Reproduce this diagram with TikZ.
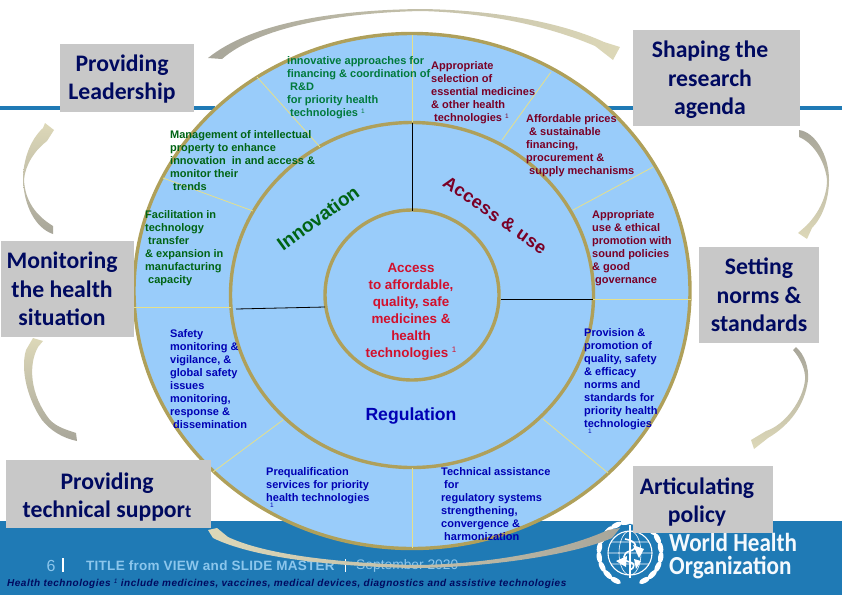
\documentclass[tikz,border=0pt]{standalone}
\usepackage{fontspec}
\setmainfont{Liberation Sans}
\newfontfamily\boxfont{Carlito}
\usetikzlibrary{shapes.geometric}
\definecolor{bandblue}{HTML}{1F7AB5}
\definecolor{ringfill}{HTML}{99CCFA}
\definecolor{ringtan}{HTML}{AFA05A}
\definecolor{boxgrey}{HTML}{C8C8C8}
\definecolor{boxnavy}{HTML}{000A60}
\definecolor{innogreen}{HTML}{007A3C}
\definecolor{darkgreen}{HTML}{006414}
\definecolor{accessred}{HTML}{7A0026}
\definecolor{regblue}{HTML}{0000B4}
\definecolor{corered}{HTML}{D2102C}
\definecolor{footpale}{HTML}{8CC6EC}
\definecolor{sweeppale}{HTML}{DDD8B8}
\definecolor{sweepmid}{HTML}{E6E08A}
\definecolor{sweepgrey}{HTML}{A8A69A}
\newcommand{\supone}{\raisebox{3.5pt}{\mdseries\fontsize{6.5}{6}\selectfont 1}}
\begin{document}
\begin{tikzpicture}[x=1pt,y=-1pt,
    ring/.style={ellipse,draw=ringtan,line width=3.4pt,fill=ringfill,inner sep=0pt},
    spoke/.style={draw=sweepmid,line width=0.8pt},
    spokeblack/.style={draw=black,line width=0.8pt},
    box/.style={rectangle,fill=boxgrey,inner sep=0pt},
    boxtext/.style={font=\boxfont\bfseries\fontsize{23.7}{28.6}\selectfont,text=boxnavy,align=center,inner sep=0pt},
    note/.style={font=\bfseries\fontsize{11}{13.1}\selectfont,align=left,anchor=north west,inner sep=0pt},
    laurel/.style={fill=white}]
    \useasboundingbox (0,0) rectangle (842,595);
    \fill[bandblue] (0,521) rectangle (842,595);
    \fill[bandblue] (0,106) rectangle (215,110);
    \fill[bandblue] (600,106) rectangle (842,110);

    \node[ring,minimum width=556pt,minimum height=515pt] (outer) at (412,291) {};
    \node[ring,minimum width=363pt,minimum height=345pt] (middle) at (412,295) {};
    \node[ring,minimum width=174pt,minimum height=170pt] (inner) at (412,295) {};

    \coordinate (a1) at (412,35);
    \coordinate (a2) at (412,122);
    \coordinate (a3) at (412,123);
    \coordinate (a4) at (412,211);
    \coordinate (b1) at (257,77);
    \coordinate (b2) at (320,147);
    \coordinate (c1) at (163,178);
    \coordinate (c2) at (253,211);
    \coordinate (d1) at (134,307);
    \coordinate (d2) at (231,307);
    \coordinate (d3) at (236,309);
    \coordinate (d4) at (325,307);
    \coordinate (e1) at (283,420);
    \coordinate (e2) at (213,472);
    \coordinate (f1) at (412,468);
    \coordinate (f2) at (412,548);
    \coordinate (g1) at (543,419);
    \coordinate (g2) at (608,473);
    \coordinate (h1) at (593,299);
    \coordinate (h2) at (691,299);
    \coordinate (h3) at (501,299);
    \coordinate (i1) at (573,210);
    \coordinate (i2) at (653,167);
    \coordinate (j1) at (502,140);
    \coordinate (j2) at (551,72);
    \foreach \sa/\sb in {a1/a2,b1/b2,c1/c2,d1/d2,e1/e2,f1/f2,g1/g2,h1/h2,i1/i2,j1/j2}
      \draw[spoke] (\sa) -- (\sb);
    \foreach \sa/\sb in {a3/a4,d3/d4,h3/h1}
      \draw[spokeblack] (\sa) -- (\sb);

    \node[note,text=innogreen] (finance) at (287,56) {innovative approaches for\\financing \& coordination of\\\hspace*{3pt}R\&D\\for priority health\\\hspace*{3pt}technologies \supone};
    \node[note,text=darkgreen] (property) at (170,130) {Management of intellectual\\property to enhance\\innovation\ \ in and access \&\\monitor their\\\hspace*{3pt}trends};
    \node[note,text=darkgreen] (transfer) at (145,210) {Facilitation in\\technology\\\hspace*{3pt}transfer\\\& expansion in\\manufacturing\\\hspace*{3pt}capacity};
    \node[note,text=accessred] (selection) at (431,61) {Appropriate\\selection of\\essential medicines\\\& other health\\\hspace*{3pt}technologies \supone};
    \node[note,text=accessred] (prices) at (526,114) {Affordable prices\\\hspace*{3pt}\& sustainable\\financing,\\procurement \&\\\hspace*{3pt}supply mechanisms};
    \node[note,text=accessred] (promotion) at (592,210) {Appropriate\\use \& ethical\\promotion with\\sound policies\\\& good\\\hspace*{3pt}governance};
    \node[note,text=regblue] (safety) at (170,329) {Safety\\monitoring \&\\vigilance, \&\\global safety\\issues\\monitoring,\\response \&\\\hspace*{3pt}dissemination};
    \node[note,text=regblue] (prequal) at (266,467) {Prequalification\\services for priority\\health technologies\\[-7pt]\hspace*{4pt}{\mdseries\fontsize{6.5}{6}\selectfont 1}};
    \node[note,text=regblue] (assist) at (441,467) {Technical assistance\\\hspace*{3pt}for\\regulatory systems\\strengthening,\\convergence \&\\\hspace*{3pt}harmonization};
    \node[note,text=regblue] (norms) at (584,328) {Provision \&\\promotion of\\quality, safety\\\& efficacy\\norms and\\standards for\\priority health\\technologies\\[-7pt]\hspace*{4pt}{\mdseries\fontsize{6.5}{6}\selectfont 1}};

    \node[font=\bfseries\fontsize{13.4}{17}\selectfont,text=corered,align=center,inner sep=0pt] (core) at (411,312) {Access\\to affordable,\\quality, safe\\medicines \&\\health\\technologies\ \raisebox{5pt}{\mdseries\fontsize{8}{8}\selectfont 1}};
    \node[font=\bfseries\fontsize{17.6}{20}\selectfont,text=regblue,inner sep=0pt] (regulation) at (411,416) {Regulation};
    \node[font=\bfseries\fontsize{19}{20}\selectfont,text=darkgreen,rotate=36,inner sep=0pt] (innovation) at (318,218) {Innovation};
    \node[font=\bfseries\fontsize{18}{20}\selectfont\addfontfeatures{LetterSpace=3},text=accessred,rotate=-35,inner sep=0pt] (accessuse) at (495,215) {Access \& use};

    \node[font=\fontsize{16}{18}\selectfont,text=footpale,inner sep=0pt] (pagenum) at (51,566) {6};
    \fill[white] (62,558) rectangle (64,572);
    \node[font=\bfseries\fontsize{13.5}{16}\selectfont\addfontfeatures{LetterSpace=2},text=footpale,anchor=west,inner sep=0pt] (title) at (86,566) {TITLE from VIEW and SLIDE MASTER};
    \node[font=\fontsize{13.8}{16}\selectfont,text=footpale,anchor=west,inner sep=0pt] (date) at (356,566) {September 2020};
    \node[font=\bfseries\itshape\fontsize{10}{11}\selectfont\addfontfeatures{LetterSpace=5},text=boxnavy,anchor=west,inner sep=0pt] (footnote) at (7,584) {Health technologies \supone{} include medicines, vaccines, medical devices, diagnostics and assistive technologies};
    \coordinate (datebarA) at (345,559);
    \coordinate (datebarB) at (345,572);
    \draw[white,line width=0.8pt] (datebarA) -- (datebarB);

    \begin{scope}[shift={(630,553)}]
      \draw[white,line width=1.1pt] (0,0) circle (22);
      \draw[white,line width=0.6pt] (0,0) ellipse (11 and 22) (-22,0) -- (22,0) (-19,-11) -- (19,-11) (-19,11) -- (19,11);
      \foreach \a in {98,116,...,242}
        \fill[laurel,rotate=\a] (31,0) ellipse (2.6 and 6);
      \foreach \a in {-62,-44,...,82}
        \fill[laurel,rotate=\a] (31,0) ellipse (2.6 and 6);
      \fill[white] (-14,8) -- (-3,3) -- (-4,14) -- cycle (3,-8) -- (14,-4) -- (9,5) -- cycle (4,6) -- (11,8) -- (6,16) -- cycle;
      \draw[white,line width=2pt] (0,-28) -- (0,25);
      \draw[white,line width=1.6pt] (-5,-14) .. controls (8,-12) and (8,-4) .. (0,-2) .. controls (-8,0) and (-8,8) .. (0,9) .. controls (5,10) and (5,15) .. (0,17);
    \end{scope}
    \node[font=\boxfont\bfseries\fontsize{26}{22.5}\selectfont\addfontfeatures{FakeStretch=0.89},text=white!90!footpale,align=left,anchor=west,inner sep=0pt] (who) at (669,556) {World Health\\Organization};

    \coordinate (toptail) at (208,58);
    \coordinate (tophead) at (620,47);
    \coordinate (uptail) at (53,234);
    \coordinate (uphead) at (45,123);
    \coordinate (lowtail) at (77,441);
    \coordinate (lowhead) at (33,338);
    \coordinate (righttail) at (799,130);
    \coordinate (righthead) at (807,239);
    \coordinate (nexttail) at (796,347);
    \coordinate (nexthead) at (754,449);
    \coordinate (bottail) at (208,530);
    \coordinate (bothead) at (620,528);
    \shade[left color=sweepgrey,middle color=sweepmid,right color=sweeppale] (toptail) .. controls (250,24) and (330,10) .. (421,9) .. controls (500,10) and (565,24) .. (604,42) -- (tophead) -- (613,60) -- (595,46) .. controls (560,31) and (500,13) .. (421,11) .. controls (330,13) and (255,30) .. (222,59) -- cycle;
    \shade[top color=sweeppale,middle color=sweepmid,bottom color=sweepgrey] (uptail) .. controls (35,228) and (24,205) .. (23,180) .. controls (23,160) and (30,140) .. (43,128) -- (uphead) -- (54,130) -- (47,141) .. controls (35,150) and (25,165) .. (24,180) .. controls (25,200) and (35,215) .. (53,226) -- cycle;
    \shade[top color=sweeppale,middle color=sweepmid,bottom color=sweepgrey] (lowhead) -- (43,341) -- (38,347) .. controls (28,365) and (30,395) .. (50,420) .. controls (58,428) and (68,430) .. (76,433) -- (lowtail) .. controls (62,438) and (50,430) .. (42,420) .. controls (28,400) and (20,370) .. (26,350) -- cycle;
    \shade[top color=sweepgrey,middle color=sweepmid,bottom color=sweeppale] (righttail) .. controls (815,132) and (829,155) .. (829,180) .. controls (829,200) and (822,218) .. (812,228) -- (righthead) -- (798,233) -- (806,226) .. controls (820,212) and (827,195) .. (827,180) .. controls (825,160) and (812,142) .. (799,137) -- cycle;
    \shade[top color=sweepgrey,middle color=sweepmid,bottom color=sweeppale] (nexttail) .. controls (805,355) and (809,368) .. (808,380) .. controls (805,405) and (790,425) .. (768,438) -- (nexthead) -- (751,440) -- (766,431) .. controls (785,425) and (803,400) .. (805,380) .. controls (806,370) and (800,358) .. (793,350) -- cycle;
    \shade[left color=sweeppale,middle color=sweepmid,right color=sweepgrey] (bottail) -- (217,528) -- (228,537) .. controls (260,552) and (320,562) .. (412,565) .. controls (480,565) and (560,552) .. (608,530) -- (bothead) -- (612,538) .. controls (570,556) and (480,568) .. (412,568) .. controls (320,566) and (250,556) .. (213,538) -- cycle;

    \node[box,minimum width=134pt,minimum height=68pt] (leadbox) at (127,78) {};
    \node[box,minimum width=167pt,minimum height=96pt] (shapebox) at (716.5,78) {};
    \node[box,minimum width=120pt,minimum height=96pt] (normbox) at (759,295) {};
    \node[box,minimum width=140pt,minimum height=67pt] (policybox) at (703,499.5) {};
    \node[box,minimum width=205pt,minimum height=68pt] (supportbox) at (108.5,494) {};
    \node[box,minimum width=133pt,minimum height=96pt] (healthbox) at (67.5,289) {};

    \node[boxtext] (leadtext) at (122,79) {Providing\\Leadership};
    \node[boxtext] (shapetext) at (710,80) {Shaping the\\research\\agenda};
    \node[boxtext] (normtext) at (759,295) {Setting\\norms \&\\standards};
    \node[boxtext] (policytext) at (697,502) {Articulating\\policy};
    \node[boxtext] (supporttext) at (107,497) {Providing\\technical suppor{\fontsize{18}{20}\selectfont t}};
    \node[boxtext] (healthtext) at (62,289) {Monitoring\\the health\\situation};
  \end{tikzpicture}
\end{document}
